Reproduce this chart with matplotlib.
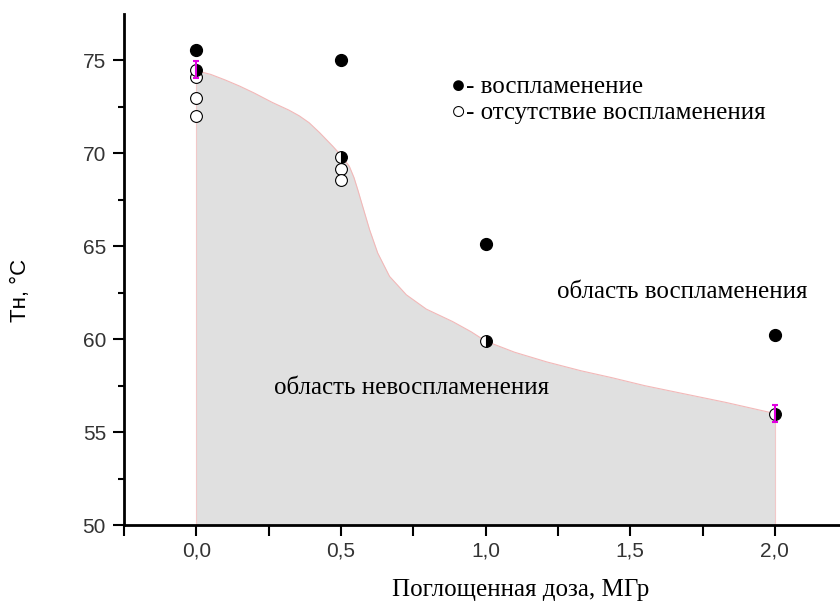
import matplotlib
matplotlib.use("Agg")
import matplotlib.pyplot as plt
import numpy as np

# ignition (filled), no ignition (open), boundary points (both at once)
ign_x = [0.0, 0.5, 1.0, 2.0]
ign_y = [75.55, 75.0, 65.15, 60.2]
noign_x = [0.0, 0.0, 0.0, 0.5, 0.5]
noign_y = [74.1, 73.0, 72.0, 69.15, 68.55]
both_x = [0.0, 0.5, 1.0, 2.0]
both_y = [74.5, 69.8, 59.9, 56.0]

# magenta error bars on the end points of the boundary
err_x = [0.0, 2.0]
err_y = [74.5, 56.0]
err_d = [0.45, 0.45]

# boundary curve
bnd_x = [0.0, 0.05, 0.1, 0.15, 0.2, 0.263, 0.32, 0.356, 0.39, 0.426, 0.472, 0.5,
         0.529, 0.545, 0.558, 0.575, 0.599, 0.627, 0.668, 0.726, 0.795, 0.886,
         0.95, 1.0, 1.1, 1.211, 1.33, 1.439, 1.55, 1.671, 1.83, 2.0]
bnd_y = [74.45, 74.25, 73.95, 73.62, 73.25, 72.74, 72.33, 72.02, 71.65, 71.12, 70.38, 69.9,
         69.3, 68.7, 68.05, 67.15, 65.89, 64.64, 63.38, 62.39, 61.62, 60.95,
         60.4, 59.9, 59.3, 58.78, 58.3, 57.92, 57.5, 57.11, 56.6, 56.0]

fig = plt.figure(figsize=(8.4, 6.05), dpi=100)
ax = fig.add_axes([0.1476, 0.1322, 0.8524, 0.8446])

ax.fill_between(bnd_x, 50, bnd_y, color="#e0e0e0", lw=0, zorder=1)
ax.plot(bnd_x, bnd_y, color="#f2b8b8", lw=0.8, zorder=2)
ax.plot([bnd_x[0], bnd_x[0]], [50, bnd_y[0]], color="#f2c8c8", lw=0.8, zorder=2)
ax.plot([bnd_x[-1], bnd_x[-1]], [50, bnd_y[-1]], color="#f2c8c8", lw=0.8, zorder=2)

ms = 8.5
ax.plot(ign_x, ign_y, "o", color="black", ms=ms, zorder=4)
ax.plot(noign_x, noign_y, "o", mfc="white", mec="black", mew=0.8, ms=ms, zorder=4)
ax.plot(both_x, both_y, "o", mfc="black", mfcalt="white", fillstyle="right",
        mec="black", mew=0.8, ms=ms, zorder=5)
ax.errorbar(err_x, err_y, yerr=err_d, fmt="none", ecolor="#e000e0", elinewidth=1.5,
            capsize=2, capthick=1.5, zorder=6)

ax.set_xlim(-0.25, 2.225)
ax.set_ylim(50, 77.5)
ax.set_xticks([0, 0.5, 1.0, 1.5, 2.0])
ax.set_xticks([-0.25, 0.25, 0.75, 1.25, 1.75], minor=True)
ax.set_yticks([50, 55, 60, 65, 70, 75])
ax.set_yticks([52.5, 57.5, 62.5, 67.5, 72.5], minor=True)
ax.set_xticklabels(["0,0", "0,5", "1,0", "1,5", "2,0"])

for s in ["top", "right"]:
    ax.spines[s].set_visible(False)
for s in ["left", "bottom"]:
    ax.spines[s].set_linewidth(2)

ax.tick_params(axis="both", which="major", direction="out", length=8, width=1.5,
               color="black", labelcolor="#333333", labelsize=15)
ax.tick_params(axis="y", which="minor", direction="out", length=4, width=1.5)
ax.tick_params(axis="x", which="minor", direction="out", length=8, width=1.5)
ax.tick_params(axis="x", pad=4)
ax.tick_params(axis="y", pad=5)
for lab in ax.get_xticklabels() + ax.get_yticklabels():
    lab.set_family("Liberation Sans")

ax.set_ylabel("Тн, °C", family="Liberation Sans", fontsize=16, va="center")
ax.yaxis.set_label_coords(-0.145, 0.46)
ax.set_xlabel("Поглощенная доза, МГр", family="Liberation Serif", fontsize=18)
ax.xaxis.set_label_coords(0.554, -0.127)
ax.xaxis.label.set_verticalalignment("center")

serif = ["Liberation Serif", "DejaVu Sans"]
ax.text(0.88, 73.55, "\u25cf- воспламенение", family=serif, fontsize=18,
        va="center", ha="left")
ax.text(0.88, 72.2, "\u25cb- отсутствие воспламенения", family=serif, fontsize=18,
        va="center", ha="left")
ax.text(1.68, 62.55, "область воспламенения", family="Liberation Serif",
        fontsize=18, ha="center", va="center")
ax.text(0.744, 57.4, "область невоспламенения", family="Liberation Serif",
        fontsize=18, ha="center", va="center")

fig.savefig("out.png", dpi=100)
